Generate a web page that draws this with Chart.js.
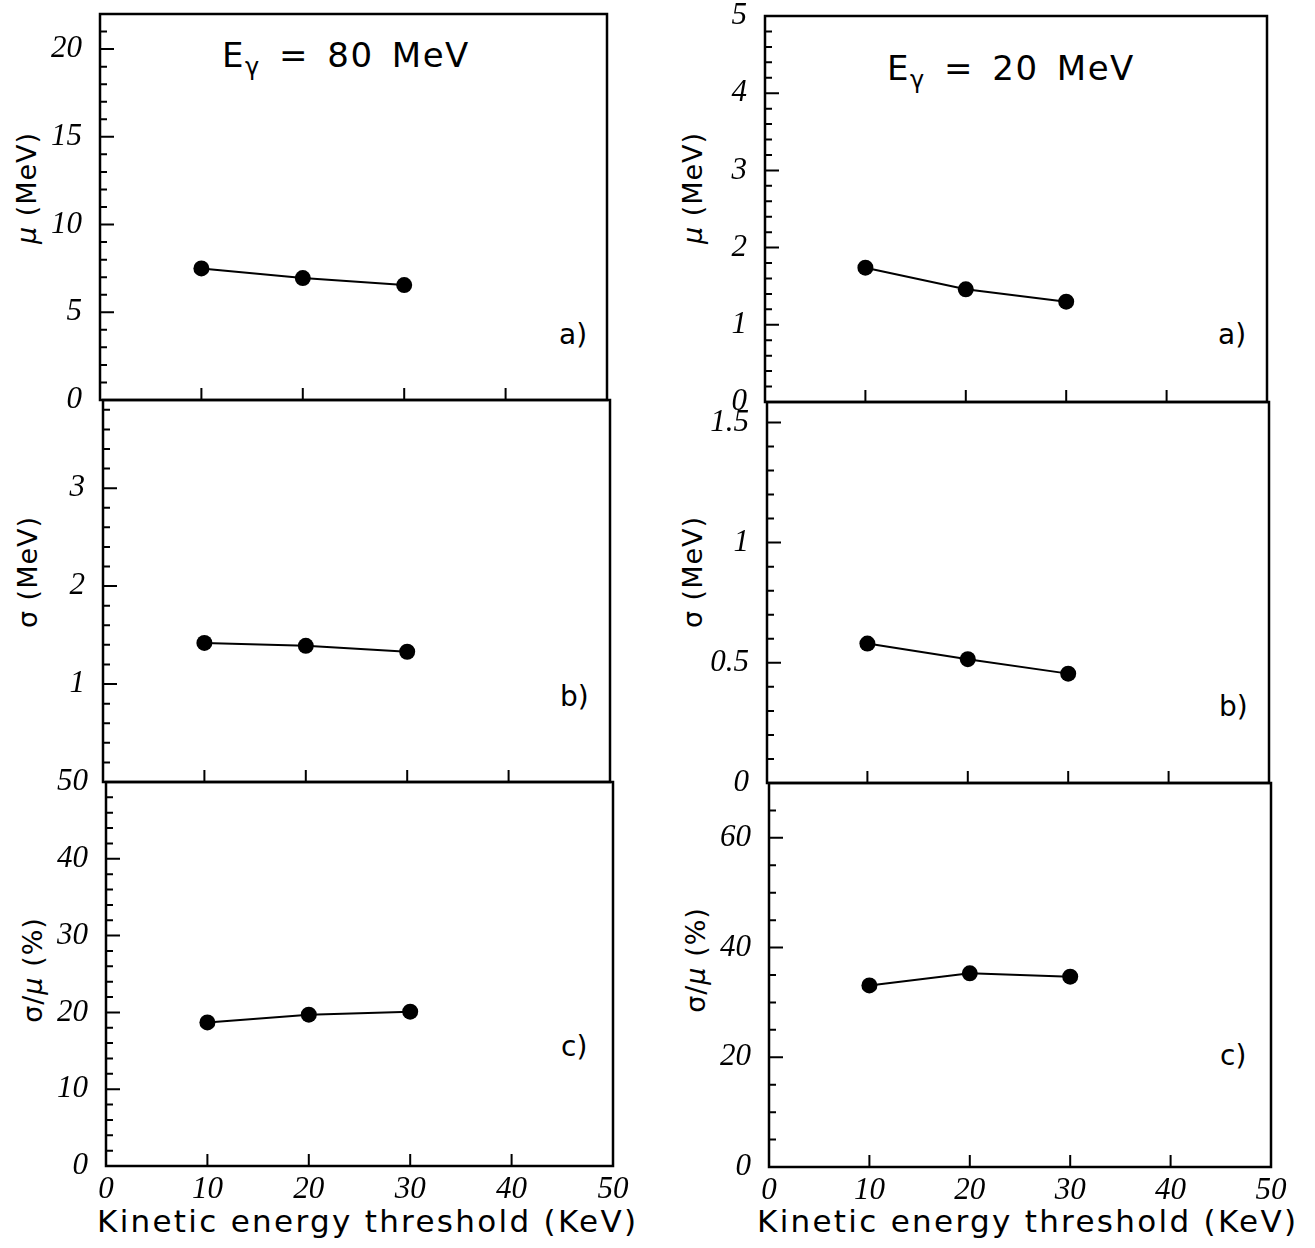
<!DOCTYPE html>
<html>
<head>
<meta charset="utf-8">
<script src="https://cdn.jsdelivr.net/npm/chart.js@4.4.1/dist/chart.umd.min.js"></script>
<style>
  body { margin: 0; background: #fff; width: 1315px; height: 1248px; position: relative; overflow: hidden; font-family: 'DejaVu Sans', sans-serif; }
  .panel { position: absolute; }
  .lbl { position: absolute; color: #000; white-space: nowrap; line-height: 1; }
  .ytitle { position: absolute; color: #000; white-space: nowrap; font-size: 27px; letter-spacing: 1px; transform: translate(-50%, -50%) rotate(-90deg); }
  .sub { font-size: 24px; position: relative; top: 8px; }
  .xtitle { font-size: 31px; letter-spacing: 2.3px; }
</style>
</head>
<body>

<div class="lbl" style="left:222px;top:38px;font-size:34px;letter-spacing:1.5px;word-spacing:6px">E<span class="sub">γ</span> = 80 MeV</div>
<div class="lbl" style="left:887px;top:51px;font-size:34px;letter-spacing:1.5px;word-spacing:6px">E<span class="sub">γ</span> = 20 MeV</div>

<div class="ytitle" style="left:26px;top:188px"><i>μ</i> (MeV)</div>
<div class="ytitle" style="left:27px;top:572px">σ (MeV)</div>
<div class="ytitle" style="left:32px;top:970px">σ/<i>μ</i> (%)</div>
<div class="ytitle" style="left:692px;top:188px"><i>μ</i> (MeV)</div>
<div class="ytitle" style="left:692px;top:572px">σ (MeV)</div>
<div class="ytitle" style="left:695px;top:960px">σ/<i>μ</i> (%)</div>

<div class="lbl" style="left:559px;top:321px;font-size:28px">a)</div>
<div class="lbl" style="left:560px;top:683px;font-size:28px">b)</div>
<div class="lbl" style="left:561px;top:1033px;font-size:28px">c)</div>
<div class="lbl" style="left:1218px;top:321px;font-size:28px">a)</div>
<div class="lbl" style="left:1219px;top:693px;font-size:28px">b)</div>
<div class="lbl" style="left:1220px;top:1042px;font-size:28px">c)</div>

<div class="lbl xtitle" style="left:97px;top:1206px">Kinetic energy threshold (KeV)</div>
<div class="lbl xtitle" style="left:757px;top:1206px">Kinetic energy threshold (KeV)</div>

<script>
// kinetic energy thresholds (KeV)
const thresholds = [10, 20, 30];
const xTicks = [0, 10, 20, 30, 40, 50];

// E_gamma = 80 MeV
const mu80 = [7.5, 6.95, 6.55];
const sigma80 = [1.42, 1.39, 1.33];
const ratio80 = [18.7, 19.7, 20.1];

// E_gamma = 20 MeV
const mu20 = [1.74, 1.46, 1.30];
const sigma20 = [0.58, 0.515, 0.455];
const ratio20 = [33.1, 35.3, 34.7];

// labelled y ticks
const muTicks80 = [0, 5, 10, 15, 20];
const sigmaTicks80 = [1, 2, 3];
const ratioTicks80 = [0, 10, 20, 30, 40, 50];
const muTicks20 = [0, 1, 2, 3, 4, 5];
const sigmaTicks20 = [0, 0.5, 1, 1.5];
const ratioTicks20 = [0, 20, 40, 60];

const tickFont = { family: "'Liberation Serif', 'Times New Roman', serif", style: 'italic', size: 31 };

// frame + inward ticks, drawn from the chart scales
const frame = {
    id: 'frame',
    beforeDatasetsDraw(chart, args, opts) {
        const { ctx, chartArea: a, scales: { x, y } } = chart;
        ctx.save();
        ctx.strokeStyle = '#000';
        ctx.lineWidth = 2.5;
        ctx.strokeRect(a.left, a.top, a.right - a.left, a.bottom - a.top);
        ctx.lineWidth = 2;
        ctx.beginPath();
        for (let i = 1; i * opts.minor <= y.max + 1e-9; i++) {
            const v = i * opts.minor;
            const r = v / opts.major;
            const len = Math.abs(r - Math.round(r)) < 1e-6 ? 14 : 7;
            const py = y.getPixelForValue(v);
            ctx.moveTo(a.left, py);
            ctx.lineTo(a.left + len, py);
        }
        xTicks.slice(1, -1).forEach(v => {
            const px = x.getPixelForValue(v);
            ctx.moveTo(px, a.bottom);
            ctx.lineTo(px, a.bottom - 12);
        });
        ctx.stroke();
        ctx.restore();
    }
};

function makePanel(p) {
    const L = 100, T = 22, R = 24, B = p.xLabels ? 50 : 22;
    const w = p.box[2] - p.box[0], h = p.box[3] - p.box[1];
    const wrap = document.createElement('div');
    wrap.className = 'panel';
    wrap.style.left = (p.box[0] - L) + 'px';
    wrap.style.top = (p.box[1] - T) + 'px';
    wrap.style.width = (w + L + R) + 'px';
    wrap.style.height = (h + T + B) + 'px';
    const cv = document.createElement('canvas');
    wrap.appendChild(cv);
    document.body.appendChild(wrap);

    return new Chart(cv, {
        type: 'line',
        data: {
            datasets: [{
                data: thresholds.map((x, i) => ({ x: x, y: p.values[i] })),
                borderColor: '#000',
                borderWidth: 2,
                pointRadius: 8,
                pointBackgroundColor: '#000',
                pointBorderWidth: 0,
                tension: 0,
                fill: false
            }]
        },
        options: {
            responsive: true,
            maintainAspectRatio: false,
            animation: false,
            events: [],
            layout: { padding: { left: 0, top: T, right: R, bottom: 0 } },
            plugins: {
                legend: { display: false },
                tooltip: { enabled: false },
                frame: { major: p.major, minor: p.minor }
            },
            scales: {
                x: {
                    type: 'linear', min: 0, max: 50,
                    grid: { display: false, drawTicks: false },
                    border: { display: false },
                    afterBuildTicks: s => { s.ticks = xTicks.map(v => ({ value: v })); },
                    afterFit: s => { s.height = B; s.paddingLeft = 0; s.paddingRight = 0; },
                    ticks: { display: p.xLabels, font: tickFont, color: '#000', padding: 5, maxRotation: 0, autoSkip: false }
                },
                y: {
                    type: 'linear', min: 0, max: p.max,
                    grid: { display: false, drawTicks: false },
                    border: { display: false },
                    afterBuildTicks: s => { s.ticks = p.ticks.map(v => ({ value: v })); },
                    afterFit: s => { s.width = L; s.paddingTop = 0; s.paddingBottom = 0; },
                    ticks: { font: tickFont, color: '#000', padding: 18, autoSkip: false, callback: v => String(v) }
                }
            }
        },
        plugins: [frame]
    });
}

document.addEventListener('DOMContentLoaded', () => {
    makePanel({ values: mu80, ticks: muTicks80, max: 22, major: 5, minor: 1, box: [100, 14, 607, 400], xLabels: false });
    makePanel({ values: sigma80, ticks: sigmaTicks80, max: 3.9, major: 1, minor: 0.2, box: [103, 400, 610, 782], xLabels: false });
    makePanel({ values: ratio80, ticks: ratioTicks80, max: 50, major: 10, minor: 2, box: [106, 782, 613, 1166], xLabels: true });
    makePanel({ values: mu20, ticks: muTicks20, max: 5, major: 1, minor: 0.2, box: [765, 16, 1267, 402], xLabels: false });
    makePanel({ values: sigma20, ticks: sigmaTicks20, max: 1.585, major: 0.5, minor: 0.1, box: [767, 402, 1269, 783], xLabels: false });
    makePanel({ values: ratio20, ticks: ratioTicks20, max: 70, major: 20, minor: 5, box: [769, 783, 1271, 1167], xLabels: true });
});
</script>
</body>
</html>
